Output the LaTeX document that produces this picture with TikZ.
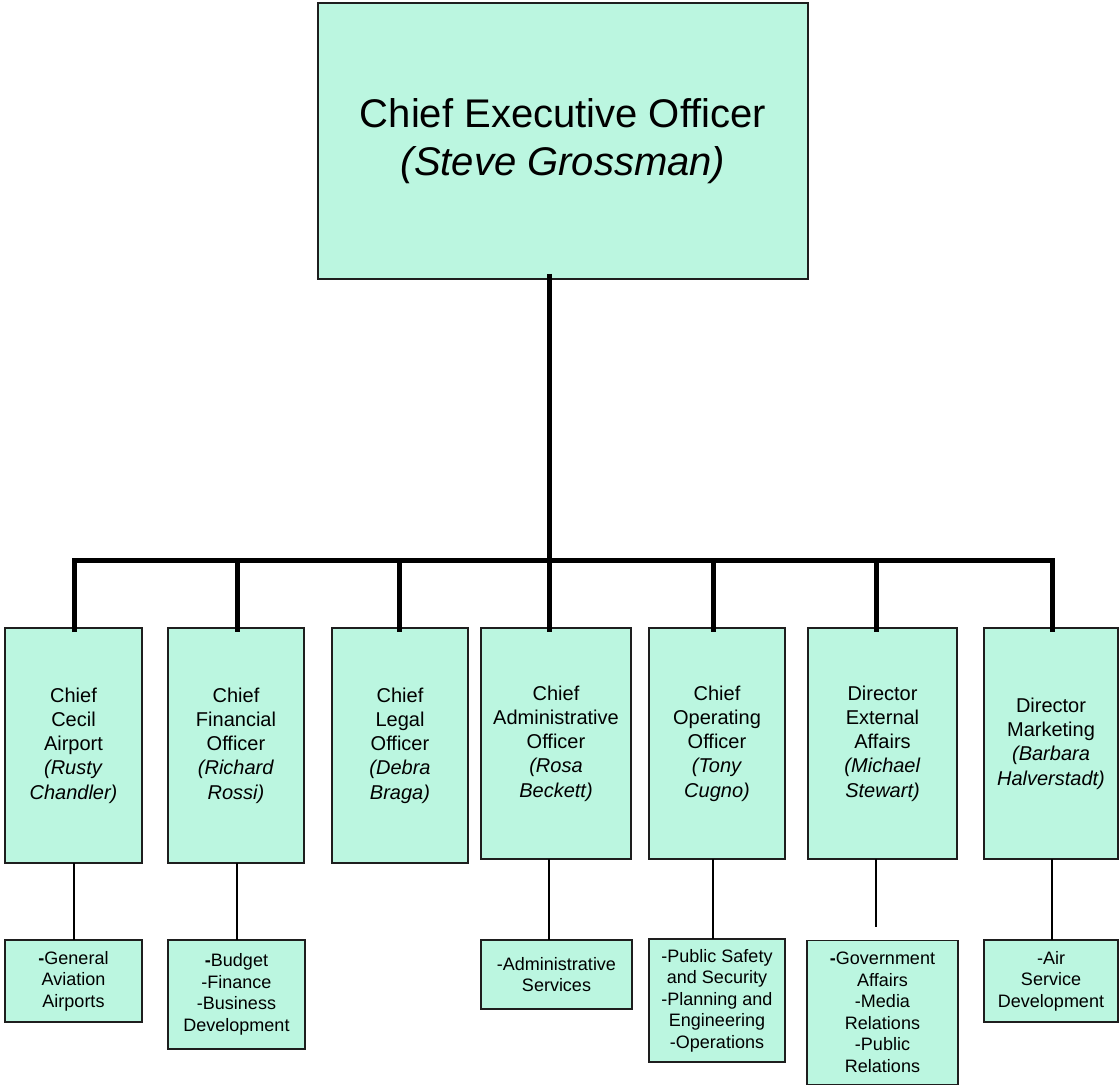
\documentclass[tikz,border=0pt]{standalone}
\usepackage{fontspec}
\setmainfont{Liberation Sans}
\usetikzlibrary{calc}
\definecolor{mint}{RGB}{187,246,224}
\definecolor{edgec}{RGB}{30,30,30}
\begin{document}
\begin{tikzpicture}[x=1pt,y=-1pt,
  box/.style={draw=edgec, line width=1.5pt, fill=mint, inner sep=0pt, outer sep=0pt, align=center, text=black},
  ceobox/.style={box, font=\fontsize{40pt}{48pt}\selectfont},
  topbox/.style={box, font=\fontsize{20pt}{24.3pt}\selectfont},
  subbox/.style={box, font=\fontsize{18pt}{21.5pt}\selectfont},
  heavy/.style={line width=5pt, line join=miter},
  light/.style={line width=2.5pt}
]
\useasboundingbox (0,0) rectangle (1120,1086);
\fill[white] (0,0) rectangle (1120,1086);

% junction coordinates on the bar
\coordinate (j1) at (74,560.5);
\coordinate (j2) at (237,560.5);
\coordinate (j3) at (399,560.5);
\coordinate (j4) at (549,560.5);
\coordinate (j5) at (713,560.5);
\coordinate (j6) at (876,560.5);
\coordinate (j7) at (1052,560.5);
\coordinate (e6) at (876,927);

% CEO
\node[ceobox, minimum width=490pt, minimum height=276pt] (ceo) at (563,141)
  {Chief Executive Officer\\\textit{(Steve Grossman)}};

% top row
\node[topbox, minimum width=137pt, minimum height=235pt] (t1) at (73.5,745.5)
  {Chief\\Cecil\\Airport\\\textit{(Rusty}\\\textit{Chandler)}};
\node[topbox, minimum width=136pt, minimum height=235pt] (t2) at (236,745.5)
  {Chief\\Financial\\Officer\\\textit{(Richard}\\\textit{Rossi)}};
\node[topbox, minimum width=136pt, minimum height=235pt] (t3) at (400,745.5)
  {Chief\\Legal\\Officer\\\textit{(Debra}\\\textit{Braga)}};
\node[topbox, minimum width=150pt, minimum height=231pt] (t4) at (556,743.5)
  {Chief\\Administrative\\Officer\\\textit{(Rosa}\\\textit{Beckett)}};
\node[topbox, minimum width=136pt, minimum height=231pt] (t5) at (717,743.5)
  {Chief\\Operating\\Officer\\\textit{(Tony}\\\textit{Cugno)}};
\node[topbox, minimum width=149pt, minimum height=231pt] (t6) at (882.5,743.5)
  {Director\\External\\Affairs\\\textit{(Michael}\\\textit{Stewart)}};
\node[topbox, minimum width=134pt, minimum height=231pt] (t7) at (1051,743.5)
  {Director\\Marketing\\\textit{(Barbara}\\\textit{Halverstadt)}};

% bottom row
\node[subbox, minimum width=137pt, minimum height=82pt] (b1) at (73.5,981)
  {\textbf{-}General\\Aviation\\Airports};
\node[subbox, minimum width=137pt, minimum height=109pt] (b2) at (236.5,994.5)
  {\textbf{-}Budget\\-Finance\\-Business\\Development};
\node[subbox, minimum width=151pt, minimum height=69pt] (b4) at (556.5,974.5)
  {-Administrative\\Services};
\node[subbox, minimum width=136pt, minimum height=123pt] (b5) at (717,1000.5)
  {-Public Safety\\and Security\\-Planning and\\Engineering\\-Operations};
\node[subbox, minimum width=151pt, minimum height=144pt] (b6) at (882.5,1012.5)
  {\textbf{-}Government\\Affairs\\-Media\\Relations\\-Public\\Relations};
\node[subbox, minimum width=134pt, minimum height=82pt] (b7) at (1051,981)
  {-Air\\Service\\Development};

% heavy connectors
\draw[heavy] ($(j1 |- t1.north)+(0,4)$) -- (j1) -- (j7) -- ($(j7 |- t7.north)+(0,4)$);
\draw[heavy] ($(j4 |- ceo.south)+(0,-5)$) -- ($(j4 |- t4.north)+(0,4)$);
\draw[heavy] (j2) -- ($(j2 |- t2.north)+(0,4)$);
\draw[heavy] (j3) -- ($(j3 |- t3.north)+(0,4)$);
\draw[heavy] (j5) -- ($(j5 |- t5.north)+(0,4)$);
\draw[heavy] (j6) -- ($(j6 |- t6.north)+(0,4)$);

% light connectors
\draw[light] (j1 |- t1.south) -- (j1 |- b1.north);
\draw[light] (j2 |- t2.south) -- (j2 |- b2.north);
\draw[light] (j4 |- t4.south) -- (j4 |- b4.north);
\draw[light] (j5 |- t5.south) -- (j5 |- b5.north);
\draw[light] (j6 |- t6.south) -- (e6);
\draw[light] (j7 |- t7.south) -- (j7 |- b7.north);
\end{tikzpicture}
\end{document}
